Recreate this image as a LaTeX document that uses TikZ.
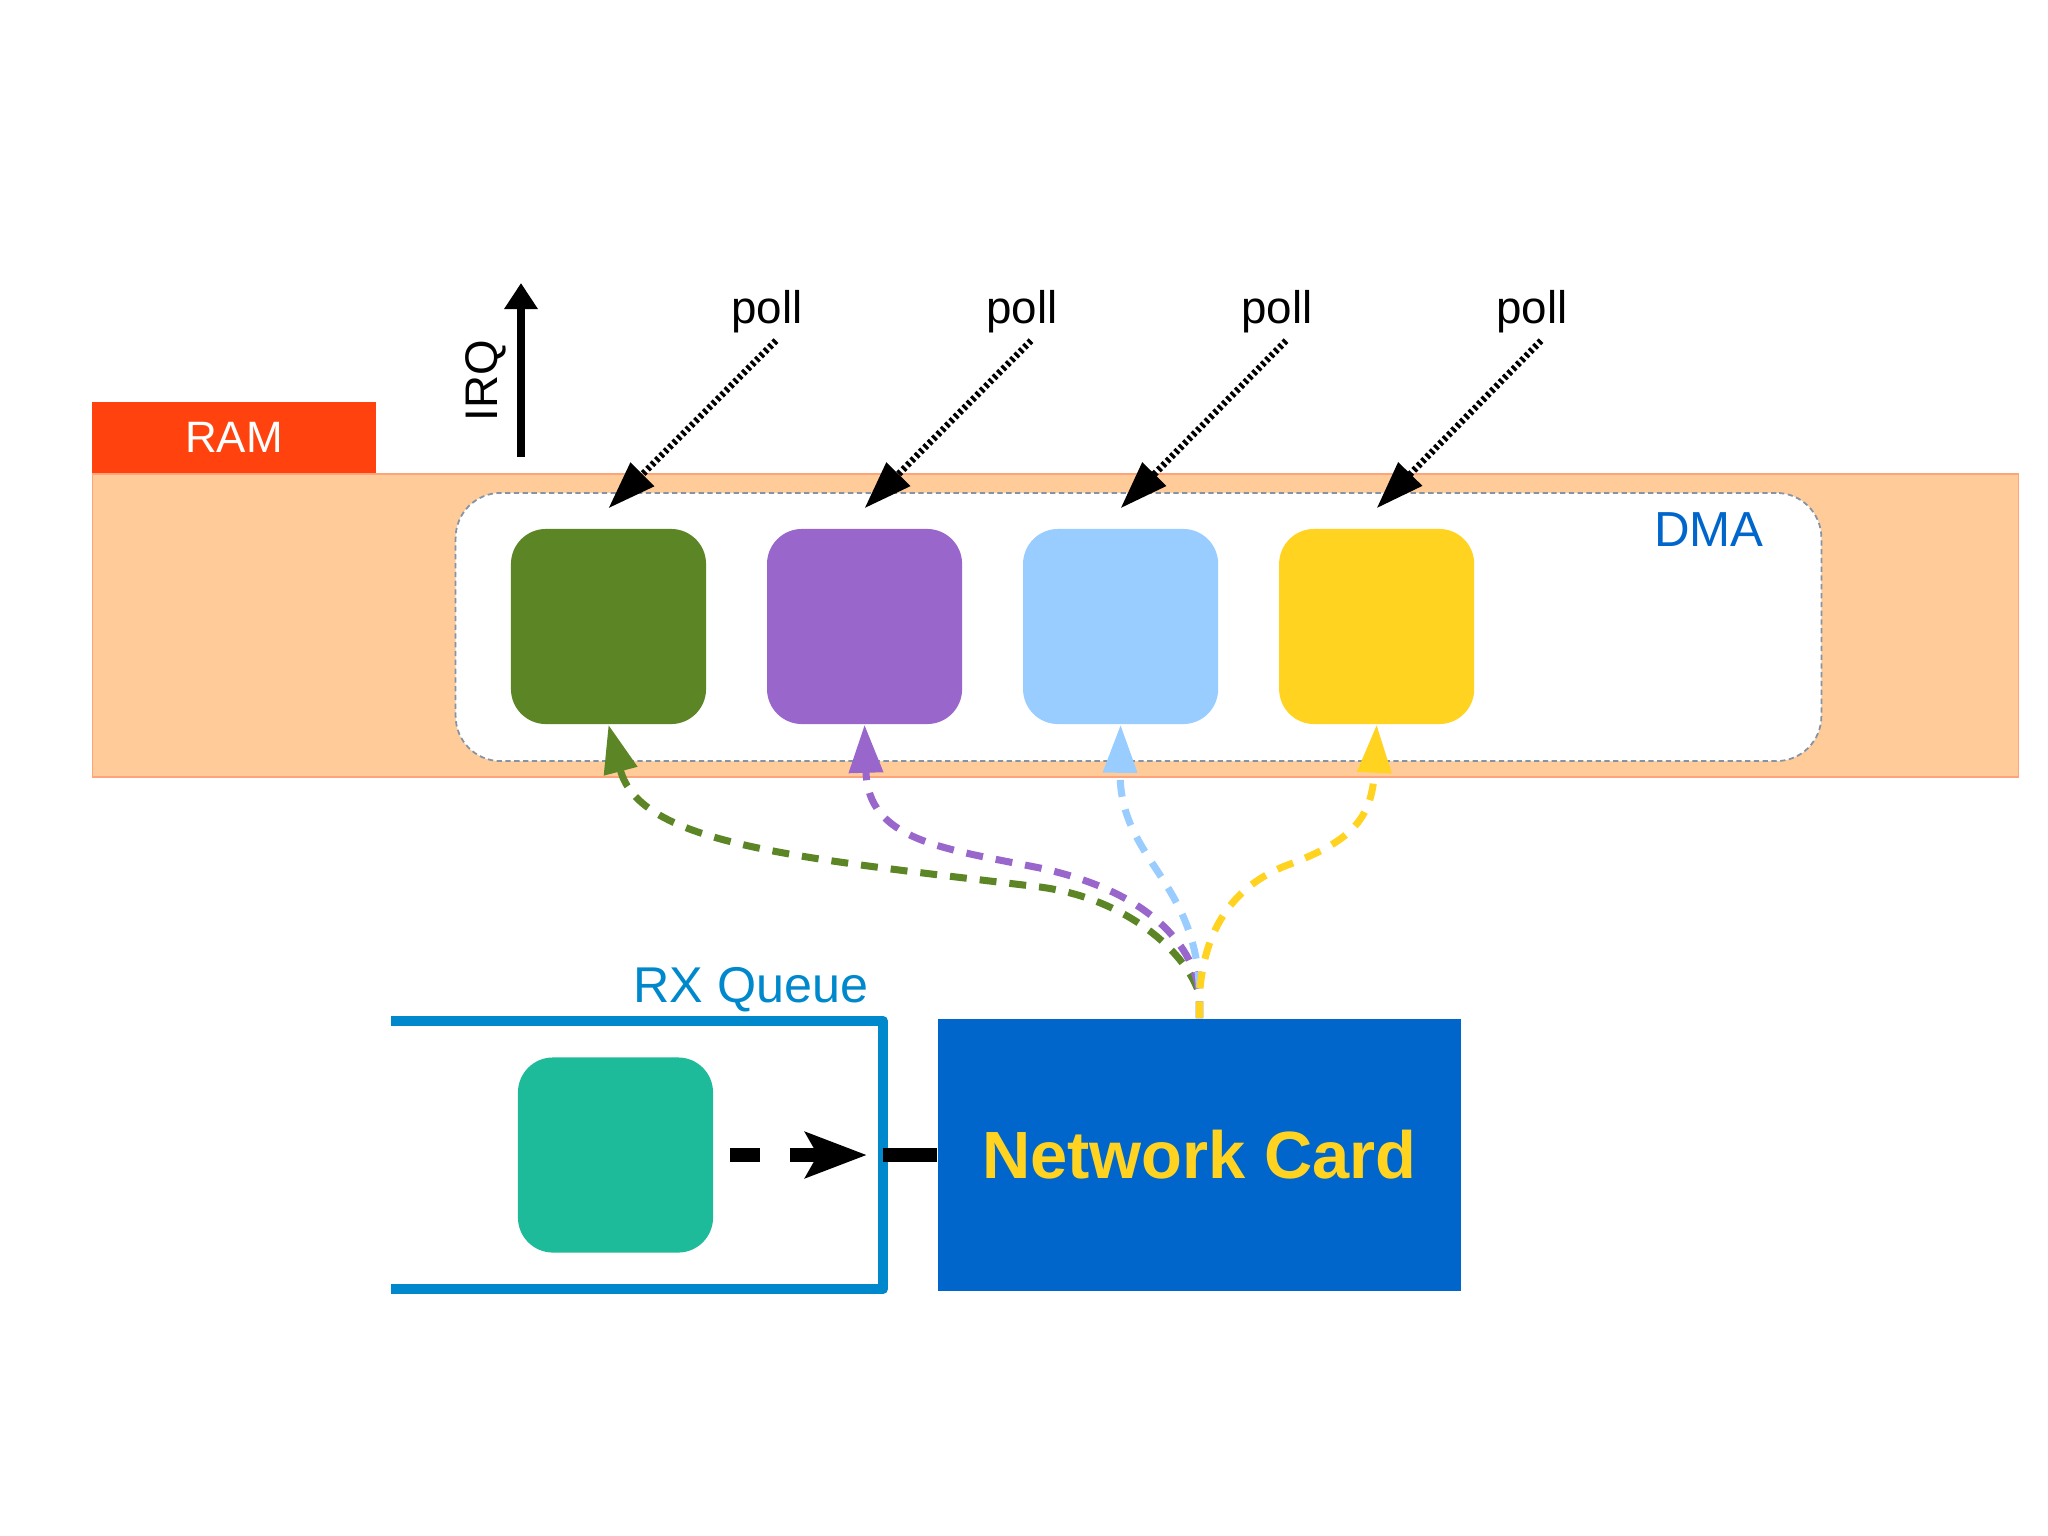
\documentclass[tikz,border=0pt]{standalone}
\usepackage{fontspec}
\setmainfont{Liberation Sans}
\usepackage{tikz}
\usetikzlibrary{positioning, arrows.meta}
\definecolor{ramred}{HTML}{FF420E}
\definecolor{peach}{HTML}{FFCC99}
\definecolor{peachline}{HTML}{FFA37A}
\definecolor{cardblue}{HTML}{0066CC}
\definecolor{qblue}{HTML}{0088CC}
\definecolor{dmaline}{HTML}{8494A6}
\definecolor{bgreen}{HTML}{5C8526}
\definecolor{bpurple}{HTML}{9966CC}
\definecolor{bsky}{HTML}{99CCFF}
\definecolor{byellow}{HTML}{FFD320}
\definecolor{bteal}{HTML}{1DBB9A}

\begin{document}
\begin{tikzpicture}[x=0.01cm, y=-0.01cm,
    band/.style={draw=peachline, fill=peach, line width=0.4pt, minimum width=19.25cm, minimum height=3.03cm, inner sep=0pt},
    ramtag/.style={fill=ramred, text=white, minimum width=2.83cm, minimum height=0.7cm, inner sep=0pt, font=\fontsize{12.5pt}{15pt}\selectfont},
    dmabox/.style={draw=dmaline, fill=white, line width=0.5pt, dash pattern=on 1.5pt off 1pt, rounded corners=4.5mm, minimum width=13.65cm, minimum height=2.68cm, inner sep=0pt},
    buf/.style={rounded corners=3.5mm, minimum size=1.95cm, inner sep=0pt},
    polltxt/.style={inner sep=0pt, font=\fontsize{13pt}{15pt}\selectfont},
    pollarr/.style={-{Triangle[length=4.8mm, width=3.2mm]}, line width=1.9pt, dash pattern=on 0.9pt off 0.85pt},
    irqarr/.style={-{Triangle[length=2.6mm, width=3.2mm]}, line width=2.1pt},
    dmaarr/.style={-{Triangle[length=4.8mm, width=3.3mm]}, line width=2pt, dash pattern=on 4.8pt off 3.7pt},
    queue/.style={draw=qblue, line width=2.85pt, line join=round},
    card/.style={fill=cardblue, text=byellow, minimum width=5.23cm, minimum height=2.72cm, inner sep=0pt, font=\bfseries\fontsize{19pt}{22pt}\selectfont},
    pktarr/.style={-{Stealth[length=6.1mm, width=4.5mm, inset=1.2mm]}, line width=4.25pt, dash pattern=on 8.5pt off 8.5pt},
    link/.style={line width=4.25pt}
]
\path[use as bounding box, fill=white] (0,0) rectangle (2048,1536);

% RAM
\node[band] (ram) at (1055.5,625.5) {};
\node[ramtag, anchor=south west] (ramlbl) at (ram.north west) {RAM};

% DMA area
\node[dmabox] (dma) at (1138.5,627) {};
\node[anchor=base, text=cardblue, font=\fontsize{14pt}{17pt}\selectfont] (dmalbl) at (1709,546) {DMA};

% Buffers
\node[buf, fill=bgreen] (b1) at (608.5,626.5) {};
\node[buf, fill=bpurple, right=0.595cm of b1] (b2) {};
\node[buf, fill=bsky, right=0.595cm of b2] (b3) {};
\node[buf, fill=byellow, right=0.595cm of b3] (b4) {};

% Polling
\node[polltxt, anchor=base] (p1) at (767,323.5) {poll};
\node[polltxt, anchor=base] (p2) at (1022,323.5) {poll};
\node[polltxt, anchor=base] (p3) at (1277,323.5) {poll};
\node[polltxt, anchor=base] (p4) at (1532,323.5) {poll};

% IRQ
\coordinate (irqlo) at (521,457);
\coordinate (irqhi) at (521,283);
\node[rotate=90, inner sep=0pt, font=\fontsize{13pt}{16pt}\selectfont] (irq) at (486,381) {IRQ};

% RX Queue
\node[minimum width=4.9cm, minimum height=2.67cm, inner sep=0pt] (rxq) at (637,1155) {};
\node[anchor=base, text=qblue, font=\fontsize{14.3pt}{17pt}\selectfont] (rxlbl) at (751,1002) {RX Queue};
\node[buf, fill=bteal] (pkt) at (615.5,1155) {};

% Network card
\node[card] (nc) at (1199.5,1155) {Network Card};
\coordinate (hub) at (1199.5,995);

% Arrows
\draw[irqarr] (irqlo) -- (irqhi);
\draw[pollarr] ([xshift=0.9mm, yshift=-0.7mm]p1.south) -- ([yshift=2mm]b1.north);
\draw[pollarr] ([xshift=0.9mm, yshift=-0.7mm]p2.south) -- ([yshift=2mm]b2.north);
\draw[pollarr] ([xshift=0.9mm, yshift=-0.7mm]p3.south) -- ([yshift=2mm]b3.north);
\draw[pollarr] ([xshift=0.9mm, yshift=-0.7mm]p4.south) -- ([yshift=2mm]b4.north);
\draw[queue] (rxq.north west) -- (rxq.north east) -- (rxq.south east) -- (rxq.south west);
\draw[pktarr] ([xshift=1.6mm]pkt.east) -- ([xshift=-1.6mm]rxq.east);
\draw[link] (rxq.east) -- (nc.west);
\draw[dmaarr, bgreen] (nc.north) -- (hub) .. controls (1188,955) and (1130,899) .. (1040,887) .. controls (800,858) and (640,845) .. (b1.south);
\draw[dmaarr, bpurple] (nc.north) -- (hub) .. controls (1195,950) and (1155,893) .. (1040,868) .. controls (940,848) and (868,840) .. (b2.south);
\draw[dmaarr, bsky] (nc.north) -- (hub) .. controls (1198,880) and (1119,860) .. (b3.south);
\draw[dmaarr, byellow] (nc.north) -- (hub) .. controls (1203,940) and (1225,890) .. (1285,866) .. controls (1350,842) and (1372,820) .. (b4.south);

\end{tikzpicture}
\end{document}
